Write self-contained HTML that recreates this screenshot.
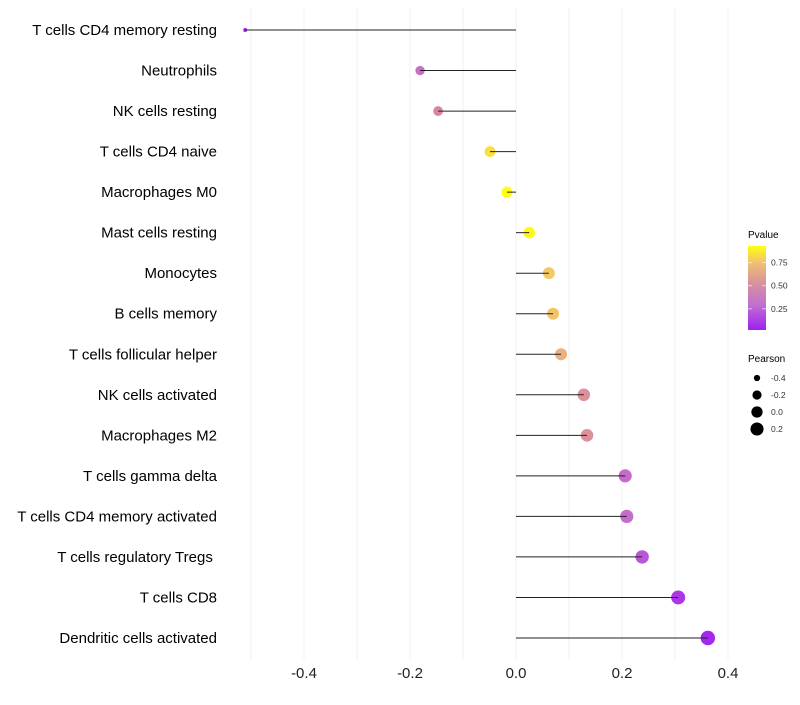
<!DOCTYPE html>
<html><head><meta charset="utf-8"><style>
body{margin:0;background:#fff;font-family:"Liberation Sans",sans-serif}
</style></head><body>
<svg id="chart" width="800" height="700" xmlns="http://www.w3.org/2000/svg" font-family="Liberation Sans, sans-serif">
<defs><linearGradient id="pg" x1="0" y1="1" x2="0" y2="0">
<stop offset="0" stop-color="#a020f0"/><stop offset="0.3" stop-color="#c070d0"/><stop offset="0.55" stop-color="#d890a0"/><stop offset="0.8" stop-color="#f0c070"/><stop offset="1" stop-color="#ffff10"/></linearGradient></defs>
<g id="grid"></g><g id="points"></g><g id="marks"></g><g id="ylabels"></g><g id="xlabels"></g>
<g>
<text x="748" y="238" font-size="10">Pvalue</text>
<rect x="748" y="246" width="18" height="84" fill="url(#pg)"/>
<g id="cbticks"></g>
</g>
<g id="sizeleg">
<text x="748" y="362" font-size="10">Pearson</text>
</g>
</svg>
<script>
const categories=["T cells CD4 memory resting","Neutrophils","NK cells resting","T cells CD4 naive","Macrophages M0","Mast cells resting","Monocytes","B cells memory","T cells follicular helper","NK cells activated","Macrophages M2","T cells gamma delta","T cells CD4 memory activated","T cells regulatory  Tregs\u00a0","T cells CD8","Dendritic cells activated"];
const pearson=[-0.511,-0.181,-0.147,-0.049,-0.017,0.025,0.062,0.070,0.085,0.128,0.134,0.206,0.209,0.238,0.306,0.362];
const pvalue=[0.02,0.33,0.48,0.85,0.95,0.93,0.78,0.76,0.68,0.53,0.53,0.3,0.3,0.2,0.08,0.03];
const xTicks=[-0.4,-0.2,0.0,0.2,0.4];
const xTickLabels=["-0.4","-0.2","0.0","0.2","0.4"];
const cbTicks=[0.25,0.5,0.75];
const sizeLegend=[-0.4,-0.2,0.0,0.2];
const NS="http://www.w3.org/2000/svg";
const X=v=>516+v*530;
const Y=i=>30+i*(608/15);
const R=v=>Math.sqrt(Math.max(1.5,32+55*v));
const stops=[[0,[160,32,240]],[0.25,[192,100,212]],[0.5,[218,136,160]],[0.75,[240,192,112]],[0.95,[255,255,16]]];
function col(p){
 if(p<=stops[0][0])return "rgb("+stops[0][1]+")";
 for(let k=1;k<stops.length;k++){if(p<=stops[k][0]){const a=stops[k-1],b=stops[k],t=(p-a[0])/(b[0]-a[0]);
 return "rgb("+a[1].map((c,j)=>Math.round(c+(b[1][j]-c)*t)).join(",")+")";}}
 return "rgb("+stops[stops.length-1][1]+")";
}
function el(t,a,parent){const e=document.createElementNS(NS,t);for(const k in a)e.setAttribute(k,a[k]);parent.appendChild(e);return e;}
const grid=document.getElementById('grid');
for(let v=-0.5;v<=0.41;v+=0.1){const g=el('line',{x1:X(v),x2:X(v),y1:8,y2:660,stroke:'#f0f0f0','stroke-width':1},grid);

}
const marks=document.getElementById('marks'),pts=document.getElementById('points'),yl=document.getElementById('ylabels'),xl=document.getElementById('xlabels');
categories.forEach((c,i)=>{
 const y=Y(i),v=pearson[i];
 const ci=el('circle',{cx:X(v),cy:y,r:R(v),fill:col(pvalue[i])},pts);
 
 
 const ln=el('line',{x1:X(0),x2:X(v),y1:y,y2:y,stroke:'#222','stroke-width':1},marks);
 
 
 const t=el('text',{x:217,y:y+5,'text-anchor':'end','font-size':15,fill:'#000'},yl);t.textContent=c;
 
 
});
xTicks.forEach((v,i)=>{const t=el('text',{x:X(v),y:678,'text-anchor':'middle','font-size':15,fill:'#222'},xl);t.textContent=xTickLabels[i];
 
 });
const cb=document.getElementById('cbticks');
cbTicks.forEach(p=>{const y=330-(p-0.02)/0.91*84;
 el('line',{x1:748,x2:752,y1:y,y2:y,stroke:'#fff','stroke-opacity':0.6},cb);el('line',{x1:762,x2:766,y1:y,y2:y,stroke:'#fff','stroke-opacity':0.6},cb);
 const t=el('text',{x:771,y:y+3,'font-size':8.5,fill:'#333'},cb);t.textContent=p.toFixed(2);
 
 });
const sl=document.getElementById('sizeleg');
sizeLegend.forEach((v,i)=>{const y=378+i*17;
 const c=el('circle',{cx:757,cy:y,r:R(v),fill:'#000'},sl);
 
 
 const t=el('text',{x:771,y:y+3,'font-size':8.5,fill:'#333'},sl);t.textContent=v.toFixed(1);
 
 });
</script>
</body></html>
